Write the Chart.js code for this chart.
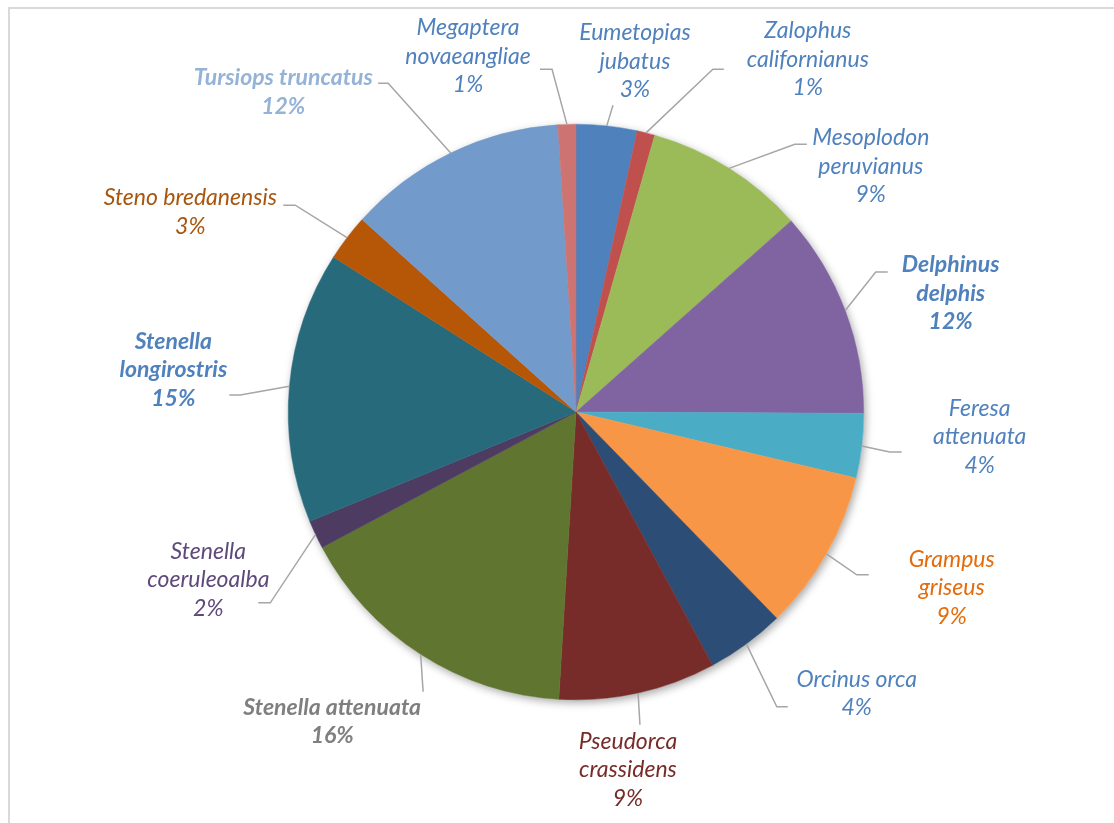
<!DOCTYPE html>
<html>
<head>
<meta charset="utf-8">
<script src="https://cdn.jsdelivr.net/npm/chart.js@4"></script>
<style>
  html, body { margin: 0; padding: 0; background: #fff; }
  #wrap { position: relative; width: 1114px; height: 823px; overflow: hidden; }
  #frame { position: absolute; left: 8px; top: 7px; right: 0; bottom: 0;
           border-left: 2px solid #d9d9d9; border-top: 2px solid #d9d9d9; }
  canvas { position: absolute; left: 0; top: 0; }
</style>
</head>
<body>
<div id="wrap">
  <div id="frame"></div>
  <canvas id="pie" width="1114" height="823"></canvas>
</div>
<script>
// Species, clockwise from 12 o'clock
const species = [
    'Eumetopias jubatus', 'Zalophus californianus', 'Mesoplodon peruvianus',
    'Delphinus delphis', 'Feresa attenuata', 'Grampus griseus', 'Orcinus orca',
    'Pseudorca crassidens', 'Stenella attenuata', 'Stenella coeruleoalba',
    'Stenella longirostris', 'Steno bredanensis', 'Tursiops truncatus',
    'Megaptera novaeangliae'
];
// share of records (%)
const shares = [3.4, 1.0, 9.0, 11.6, 3.6, 9.0, 4.4, 8.8, 16.2, 1.6, 15.2, 2.6, 12.3, 1.0];

const sliceColors = [
    '#4F81BD', '#C0504D', '#9BBB59', '#8064A2', '#4BACC6', '#F79646', '#2C4D75',
    '#772C2A', '#5F7530', '#4D3B62', '#276A7C', '#B65708', '#729ACA', '#CD7371'
];
const labelColors = [
    '#4F81BD', '#4F81BD', '#4F81BD', '#4F81BD', '#4F81BD', '#E46C0A', '#4F81BD',
    '#772C2A', '#7F7F7F', '#5F497A', '#4F81BD', '#A8560F', '#95B3D7', '#4F81BD'
];
const labelBold = [false, false, false, true, false, false, false,
                   false, true, false, true, false, true, false];
const labelWrap = [true, true, true, true, true, true, false,
                   true, false, true, true, false, false, true];

// label layout, px offsets from pie centre at radius 288:
// [label cx, label cy, leader end x, leader end y, horizontal tail]
const labelSpots = [
    [59, -351, 37, -307, 0],
    [232, -353, 148, -343, -11],
    [295, -246, 231, -268, -12],
    [375, -119, 312, -140, -12],
    [404, 25, 326, 40, -12],
    [376, 176, 293, 163, -12],
    [281, 282, 212, 295, -11],
    [52, 358, 64, 313, 0],
    [-244, 310, -153, 280, 0],
    [-368, 168, -318, 191, 12],
    [-403, -42, -347, -17, 11],
    [-386, -200, -293, -207, 12],
    [-293, -320, -198, -329, 10],
    [-108, -356, -36, -343, 12]
];

const total = shares.reduce((a, b) => a + b, 0);

const pieShadow = {
    id: 'pieShadow',
    beforeDatasetsDraw(chart) {
        const arc = chart.getDatasetMeta(0).data[0];
        if (!arc) return;
        const ctx = chart.ctx;
        ctx.save();
        ctx.shadowColor = 'rgba(0,0,0,0.35)';
        ctx.shadowBlur = 9;
        ctx.shadowOffsetX = 2;
        ctx.shadowOffsetY = 3;
        ctx.fillStyle = '#ffffff';
        ctx.beginPath();
        ctx.arc(arc.x, arc.y, arc.outerRadius, 0, Math.PI * 2);
        ctx.fill();
        ctx.restore();
    }
};

const calloutLabels = {
    id: 'calloutLabels',
    afterDatasetsDraw(chart) {
        const ctx = chart.ctx;
        const arcs = chart.getDatasetMeta(0).data;
        ctx.save();
        arcs.forEach((arc, i) => {
            const k = arc.outerRadius / 288;
            const spot = labelSpots[i];
            const mid = (arc.startAngle + arc.endAngle) / 2;
            const ax = arc.x + Math.cos(mid) * arc.outerRadius;
            const ay = arc.y + Math.sin(mid) * arc.outerRadius;
            const ex = arc.x + spot[2] * k;
            const ey = arc.y + spot[3] * k;

            // leader line
            ctx.strokeStyle = '#A6A6A6';
            ctx.lineWidth = 1.5;
            ctx.beginPath();
            ctx.moveTo(ax, ay);
            if (spot[4] !== 0) {
                ctx.lineTo(ex + spot[4], ey);
            }
            ctx.lineTo(ex, ey);
            ctx.stroke();

            // text
            const pct = Math.round(shares[i] / total * 100) + '%';
            const lines = labelWrap[i] ? species[i].split(' ') : [species[i]];
            lines.push(pct);
            ctx.font = (labelBold[i] ? 'italic bold ' : 'italic ') + '23px Lato';
            ctx.fillStyle = labelColors[i];
            ctx.textAlign = 'center';
            ctx.textBaseline = 'middle';
            const lineH = 28.5;
            const cx = arc.x + spot[0] * k;
            const cy = arc.y + spot[1] * k;
            lines.forEach((t, j) => {
                ctx.fillText(t, cx, cy + (j - (lines.length - 1) / 2) * lineH);
            });
        });
        ctx.restore();
    }
};

new Chart(document.getElementById('pie'), {
    type: 'pie',
    data: {
        labels: species,
        datasets: [{
            data: shares,
            backgroundColor: sliceColors,
            borderColor: sliceColors,
            borderWidth: 0.5
        }]
    },
    options: {
        responsive: false,
        animation: false,
        layout: { padding: { left: 288, right: 250, top: 124, bottom: 123 } },
        plugins: {
            legend: { display: false },
            tooltip: { enabled: false }
        }
    },
    plugins: [pieShadow, calloutLabels]
});
</script>
</body>
</html>
